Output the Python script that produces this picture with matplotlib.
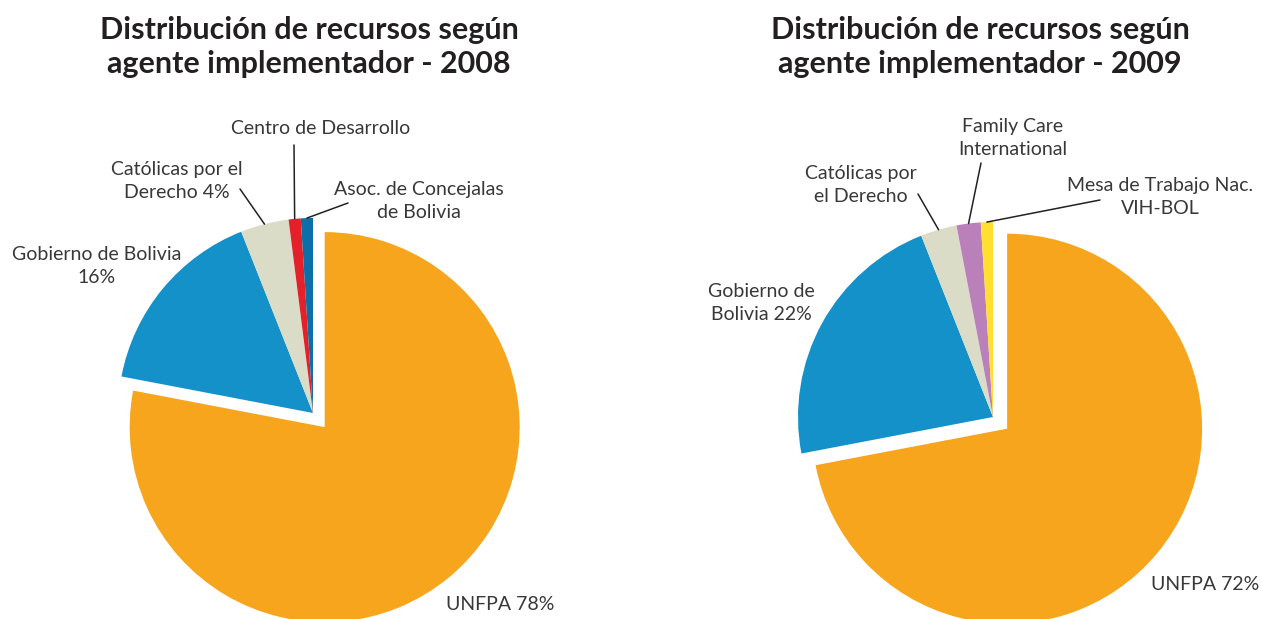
import numpy as np
import matplotlib
matplotlib.use("Agg")
import matplotlib.pyplot as plt

# data
labels_2008 = ["UNFPA", "Gobierno de Bolivia", "Católicas por el Derecho",
               "Centro de Desarrollo", "Asoc. de Concejalas de Bolivia"]
values_2008 = [78, 16, 4, 1, 1]
colors_2008 = ["#F6A51D", "#1591C9", "#DBDCC8", "#E4202A", "#0C6FA7"]

labels_2009 = ["UNFPA", "Gobierno de Bolivia", "Católicas por el Derecho",
               "Family Care International", "Mesa de Trabajo Nac. VIH-BOL"]
values_2009 = [72, 22, 3, 2, 1]
colors_2009 = ["#F6A51D", "#1591C9", "#DBDCC8", "#BA80B9", "#FFDF30"]

W, H = 1262, 619
R = 195.0  # pie radius in pixels
TXT = "#383838"
plt.rcParams["font.family"] = ["Lato", "DejaVu Sans"]

fig = plt.figure(figsize=(W / 100, H / 100), dpi=100)


def make_axes(left_px, cx, cy):
    ax = fig.add_axes([left_px / W, 0, (W / 2) / W, 1])
    return ax, (-(cx - left_px) / R, (left_px + W / 2 - cx) / R), (-(H - cy) / R, cy / R)


def draw_pie(ax, xlim, ylim, values, colors, cx, cy, texts, leaders):
    wedges, _ = ax.pie(values, colors=colors, startangle=90, counterclock=False,
                       explode=[0.094] + [0] * (len(values) - 1),
                       wedgeprops=dict(linewidth=0))
    ax.set_xlim(*xlim)
    ax.set_ylim(*ylim)
    ax.set_aspect("auto")
    ax.axis("off")

    def to_data(px, py):
        return ((px - cx) / R, (cy - py) / R)

    for s, (px, py) in texts:
        ax.text(*to_data(px, py), s, ha="center", va="center", fontsize=14,
                fontweight="normal", color=TXT, linespacing=1.45)
    for i, (px, py) in leaders.items():
        w = wedges[i]
        a = np.deg2rad((w.theta1 + w.theta2) / 2)
        edge = (w.center[0] + w.r * np.cos(a), w.center[1] + w.r * np.sin(a))
        ax.annotate("", xy=edge, xytext=to_data(px, py),
                    arrowprops=dict(arrowstyle="-", color="#222222", lw=1.1,
                                    shrinkA=0, shrinkB=0))


# 2008
cx, cy = 313, 413
ax1, xl, yl = make_axes(0, cx, cy)
draw_pie(ax1, xl, yl, values_2008, colors_2008, cx, cy,
         [(f"UNFPA {values_2008[0]}%", (500, 604)),
          (f"Gobierno de Bolivia\n{values_2008[1]}%", (97, 266)),
          (f"Católicas por el\nDerecho {values_2008[2]}%", (177, 181)),
          ("Centro de Desarrollo", (321, 128)),
          ("Asoc. de Concejalas\nde Bolivia", (419, 201))],
         {2: (240, 189), 3: (294, 145), 4: (348, 203)})

# 2009
cx, cy = 993, 417
ax2, xl, yl = make_axes(W / 2, cx, cy)
draw_pie(ax2, xl, yl, values_2009, colors_2009, cx, cy,
         [(f"UNFPA {values_2009[0]}%", (1205, 585)),
          (f"Gobierno de\nBolivia {values_2009[1]}%", (761, 303)),
          ("Católicas por\nel Derecho", (861, 185)),
          ("Family Care\nInternational", (1013, 138)),
          ("Mesa de Trabajo Nac.\nVIH-BOL", (1160, 197))],
         {2: (918, 194), 3: (981, 163), 4: (1100, 200)})

for x, yr in [(309, "2008"), (980, "2009")]:
    fig.text(x / W, 1 - 47 / H, f"Distribución de recursos según\nagente implementador - {yr}",
             ha="center", va="center", fontsize=22, fontweight="bold",
             color="#231F20", linespacing=1.27)

fig.savefig("out.png", dpi=100)
